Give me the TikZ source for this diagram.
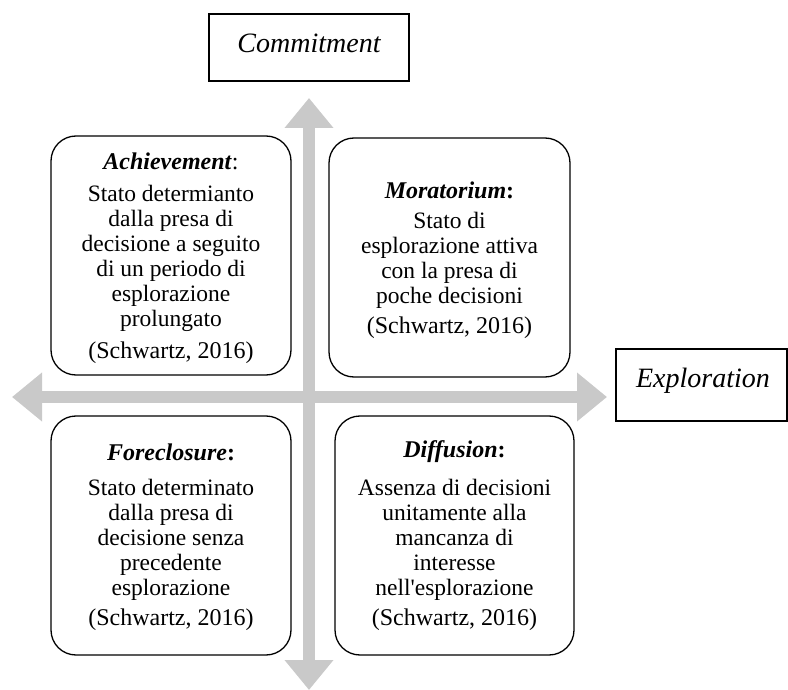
\documentclass[tikz,border=0pt]{standalone}
\usepackage{fontspec}
\setmainfont{Liberation Serif}
\usetikzlibrary{arrows.meta}
\definecolor{axisgray}{RGB}{201,201,201}
\begin{document}
\begin{tikzpicture}[x=1pt,y=-1pt,
  quad/.style={draw, line width=1.3pt, rounded corners=25pt, inner sep=0pt, minimum width=240pt, minimum height=239pt},
  hdrbox/.style={draw, line width=1.1pt, inner sep=0pt},
  hdr/.style={inner sep=0pt, font=\fontsize{28}{30}\selectfont\itshape},
  txt/.style={inner sep=0pt, align=center, font=\fontsize{24}{25}\selectfont},
  body/.style={inner sep=0pt, align=center, font=\fontsize{23.5}{25}\selectfont},
  axis/.style={draw=axisgray, line width=12pt, {Triangle[length=30pt,width=47pt]}-{Triangle[length=30pt,width=47pt]}}
]
\useasboundingbox (0,0) rectangle (788,690);
% axes
\coordinate (vtop) at (309,98);
\coordinate (vbot) at (309,690);
\coordinate (hl) at (12,397);
\coordinate (hr) at (607,397);
\draw[axis] (vbot) -- (vtop);
\draw[axis] (hl) -- (hr);
% header boxes
\node[hdrbox, minimum width=200pt, minimum height=67pt] (commitbox) at (309,47.5) {};
\node[hdr] (commit) at (309,43) {Commitment};
\node[hdrbox, minimum width=171pt, minimum height=72pt] (explbox) at (701.5,385) {};
\node[hdr] (expl) at (703,381) {Exploration};
% quadrants
\node[quad, minimum width=240pt] (ach) at (171,255.5) {};
\node[txt] (achT) at (171,161) {\textbf{\textit{Achievement}}:};
\node[body] (achB) at (171,258.5) {Stato determianto\\dalla presa di\\decisione a seguito\\di un periodo di\\esplorazione\\prolungato};
\node[txt] (achC) at (171,353) {(Schwartz, 2016)};

\node[quad, minimum width=241pt] (mor) at (449.5,257.5) {};
\node[txt] (morT) at (449.5,190) {\textbf{\textit{Moratorium}:}};
\node[body] (morB) at (449.5,260.5) {Stato di\\esplorazione attiva\\con la presa di\\poche decisioni};
\node[txt] (morC) at (449.5,328) {(Schwartz, 2016)};

\node[quad, minimum width=240pt] (for) at (171,535.5) {};
\node[txt] (forT) at (171,452) {\textbf{\textit{Foreclosure}:}};
\node[body] (forB) at (171,539.5) {Stato determinato\\dalla presa di\\decisione senza\\precedente\\esplorazione};
\node[txt] (forC) at (171,620) {(Schwartz, 2016)};

\node[quad, minimum width=239pt] (dif) at (454.5,535.5) {};
\node[txt] (difT) at (454.5,452) {\textbf{\textit{Diffusion}:}};
\node[body] (difB) at (454.5,539.5) {Assenza di decisioni\\unitamente alla\\mancanza di\\interesse\\nell\textquotesingle esplorazione};
\node[txt] (difC) at (454.5,620) {(Schwartz, 2016)};
\end{tikzpicture}
\end{document}
